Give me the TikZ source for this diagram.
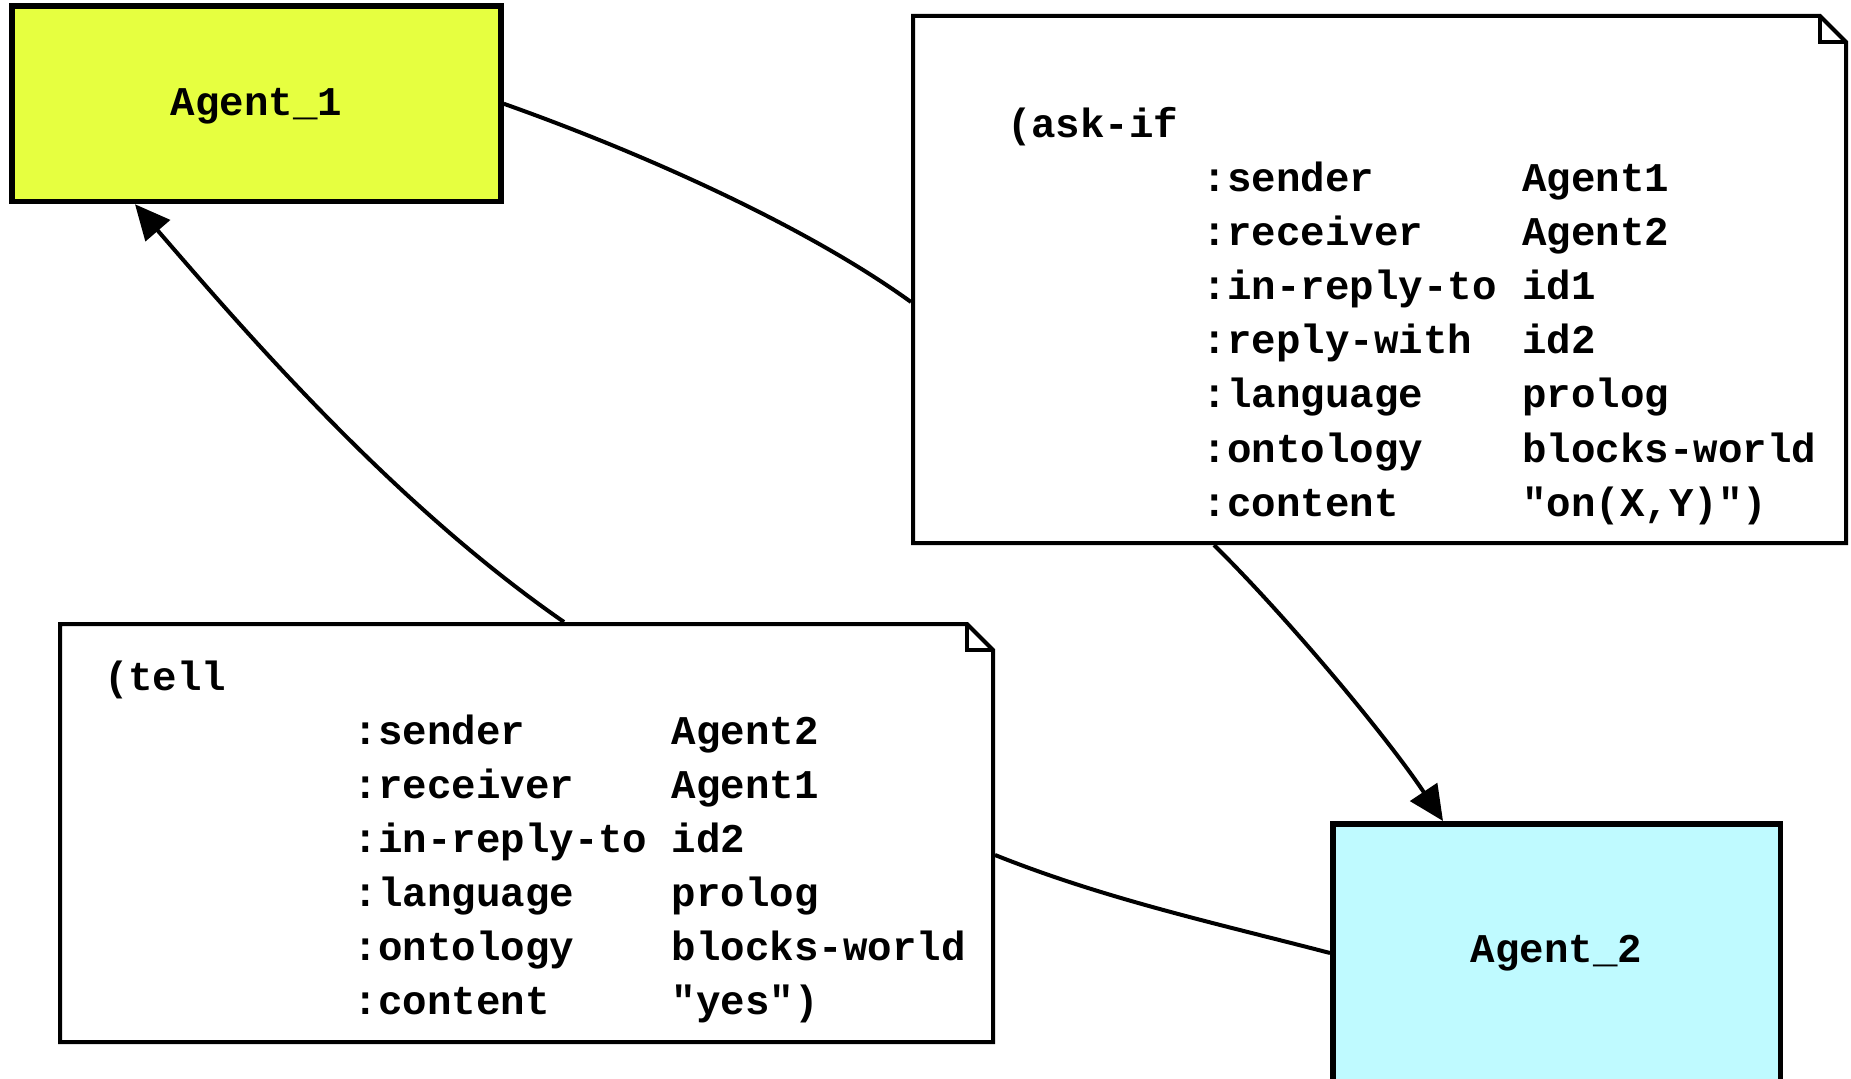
\documentclass[tikz,border=0pt]{standalone}
\usepackage{fontspec}
\setmonofont{Liberation Mono}
\usetikzlibrary{arrows.meta}
\definecolor{agentyellow}{HTML}{E6FF40}
\definecolor{agentcyan}{HTML}{BFFAFF}
\newcommand{\msgfont}{\fontsize{40.8pt}{54pt}\selectfont\ttfamily\bfseries}
\begin{document}
\begin{tikzpicture}[x=1pt,y=-1pt,
  agent/.style={draw=black, line width=5.5pt, inner sep=0pt, font=\msgfont},
  notebg/.style={inner sep=0pt, outer sep=0pt},
  noteline/.style={draw=black, line width=4pt, line join=miter},
  msgtext/.style={anchor=base west, inner sep=0pt, outer sep=0pt, font=\msgfont},
  conn/.style={draw=black, line width=4pt},
  arr/.style={conn, -{Triangle[length=35pt,width=32pt]}}]
\clip (0,0) rectangle (1851,1078);
\fill[white] (0,0) rectangle (1851,1078);

% agents
\node[agent, fill=agentyellow, minimum width=489pt, minimum height=195.5pt] (a1) at (256.5,103.75) {\raisebox{-2.5pt}[\height][\depth]{Agent\_1}};
\node[agent, fill=agentcyan, minimum width=447.5pt, minimum height=258.5pt] (a2) at (1556.5,953) {Agent\_2};

% ask-if note
\node[notebg, minimum width=937pt, minimum height=531pt] (ask) at (1379.5,279.5) {};
\draw[noteline] ([shift={(2pt,-2pt)}]ask.north west) -- ([shift={(-28pt,-2pt)}]ask.north east)
  -- ([shift={(-2pt,-28pt)}]ask.north east) -- ([shift={(-2pt,2pt)}]ask.south east)
  -- ([shift={(2pt,2pt)}]ask.south west) -- cycle;
\draw[noteline] ([shift={(-28pt,-2pt)}]ask.north east) |- ([shift={(-2pt,-28pt)}]ask.north east);
\node[msgtext] (askt) at (1007,138) {\begin{tabular}[t]{@{}p{4.8em}@{}p{7.83em}@{}l@{}}
(ask-if & & \\
 & :sender & Agent1\\
 & :receiver & Agent2\\
 & :in-reply-to & id1\\
 & :reply-with & id2\\
 & :language & prolog\\
 & :ontology & blocks-world\\
 & :content & "on(X,Y)")
\end{tabular}};

% tell note
\node[notebg, minimum width=937pt, minimum height=422pt] (tell) at (526.5,833) {};
\draw[noteline] ([shift={(2pt,-2pt)}]tell.north west) -- ([shift={(-28pt,-2pt)}]tell.north east)
  -- ([shift={(-2pt,-28pt)}]tell.north east) -- ([shift={(-2pt,2pt)}]tell.south east)
  -- ([shift={(2pt,2pt)}]tell.south west) -- cycle;
\draw[noteline] ([shift={(-28pt,-2pt)}]tell.north east) |- ([shift={(-2pt,-28pt)}]tell.north east);
\node[msgtext] (tellt) at (104,690.5) {\begin{tabular}[t]{@{}p{6.12em}@{}p{7.8em}@{}l@{}}
(tell & & \\
 & :sender & Agent2\\
 & :receiver & Agent1\\
 & :in-reply-to & id2\\
 & :language & prolog\\
 & :ontology & blocks-world\\
 & :content & "yes")
\end{tabular}};

% connectors
\draw[conn] (a1.east) .. controls (637,151) and (803,224) .. ([yshift=-22.5pt]ask.west);
\draw[arr] ([xshift=-165.5pt]ask.south) .. controls (1284,614) and (1385,734) .. ([xshift=-113.5pt]a2.north);
\draw[conn] (a2.west) .. controls (1215,923) and (1105,899) .. ([yshift=-22pt]tell.east);
\draw[arr] ([xshift=37.5pt]tell.north) .. controls (392,503) and (242,328) .. ([xshift=-121.5pt]a1.south);
\end{tikzpicture}
\end{document}
